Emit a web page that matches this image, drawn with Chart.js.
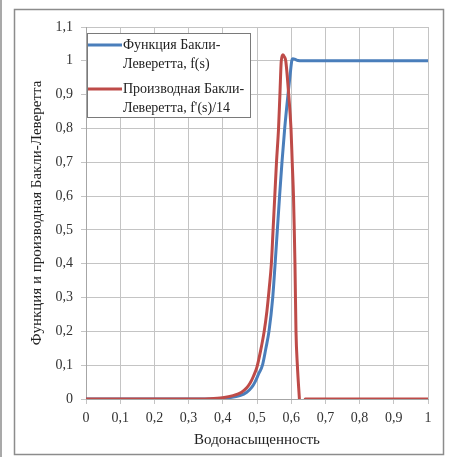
<!DOCTYPE html>
<html lang="ru">
<head>
<meta charset="utf-8">
<script src="https://cdn.jsdelivr.net/npm/chart.js@4.4.1/dist/chart.umd.min.js"></script>
<style>
  html, body { margin: 0; padding: 0; background: #fff; }
  #wrap { width: 449px; height: 457px; position: relative; }
</style>
</head>
<body>
<div id="wrap"><canvas id="blChart"></canvas></div>
<script>
// водонасыщенность s и функция Бакли-Леверетта f(s)
const sBlue = [0, 0.1, 0.2, 0.3, 0.38, 0.42, 0.45, 0.47, 0.485, 0.494, 0.505, 0.516, 0.526, 0.535,
  0.546, 0.553, 0.5595, 0.566, 0.573, 0.581, 0.5906, 0.597, 0.6017, 0.605, 0.61, 0.62, 0.632,
  0.7, 0.8, 0.9, 1.0];
const fBlue = [0, 0, 0, 0, 0.001, 0.004, 0.01, 0.02, 0.035, 0.05, 0.075, 0.10, 0.15, 0.20,
  0.30, 0.40, 0.50, 0.60, 0.70, 0.80, 0.90, 0.96, 1.0, 1.006, 1.005, 1.001, 1.0,
  1.0, 1.0, 1.0, 1.0];

// производная f'(s)/14
const sRed = [0, 0.1, 0.2, 0.3, 0.36, 0.4, 0.43, 0.455, 0.47, 0.48, 0.49, 0.5, 0.51, 0.521, 0.529,
  0.536, 0.542, 0.547, 0.552, 0.557, 0.563, 0.567, 0.571, 0.576, 0.58, 0.584, 0.5927, 0.5994,
  0.603, 0.6067, 0.609, 0.611, 0.614, 0.618, 0.624, 0.632, 0.641, 0.7, 0.8, 0.9, 1.0];
const dRed = [0, 0, 0, 0, 0.001, 0.004, 0.01, 0.02, 0.033, 0.047, 0.068, 0.095, 0.14, 0.20, 0.26,
  0.33, 0.40, 0.50, 0.60, 0.70, 0.80, 0.90, 1.0, 1.018, 1.012, 1.0, 0.90, 0.80,
  0.70, 0.60, 0.50, 0.40, 0.20, 0.10, 0, null, 0, 0, 0, 0, 0];

const seriesNames = [
  ["Функция Бакли-", "Леверетта, f(s)"],
  ["Производная Бакли-", "Леверетта, f'(s)/14"]
];
const seriesColors = ['#4a7ebb', '#be4b48'];

const xTitle = 'Водонасыщенность';
const yTitle = 'Функция и производная Бакли-Леверетта';

const serif = "'Liberation Serif', 'Times New Roman', serif";

function toPoints(xs, ys) {
  return xs.map((x, i) => ({ x: x, y: ys[i] }));
}

// число с десятичной запятой: 0,1 ... 1,1
function commaNum(v) {
  return String(Math.round(v * 10) / 10).replace('.', ',');
}

// рамка вокруг диаграммы
const framePlugin = {
  id: 'frame',
  beforeDraw(chart) {
    const c = chart.ctx;
    c.save();
    c.fillStyle = '#fff';
    c.fillRect(0, 0, chart.width, chart.height);
    c.strokeStyle = '#8c8c8c';
    c.lineWidth = 1.5;
    c.strokeRect(14.5, 9.5, 429, 445);
    c.beginPath();
    c.moveTo(1, 0);
    c.lineTo(1, chart.height);
    c.stroke();
    c.restore();
  }
};

// легенда в две строки внутри области построения
const boxLegend = {
  id: 'boxLegend',
  afterDraw(chart) {
    const c = chart.ctx;
    const left = chart.chartArea.left + 1;
    const top = chart.chartArea.top + 6;
    const w = 163, h = 84;
    c.save();
    c.fillStyle = '#fff';
    c.fillRect(left, top, w, h);
    c.strokeStyle = '#7a7a7a';
    c.lineWidth = 1;
    c.strokeRect(left + 0.5, top + 0.5, w, h);
    c.font = '14px ' + serif;
    c.textBaseline = 'middle';
    c.fillStyle = '#222';
    seriesNames.forEach((lines, i) => {
      const y = top + 12 + i * 44;
      c.strokeStyle = seriesColors[i];
      c.lineWidth = 3;
      c.beginPath();
      c.moveTo(left + 1, y);
      c.lineTo(left + 35, y);
      c.stroke();
      lines.forEach((t, j) => c.fillText(t, left + 36, y + j * 19));
    });
    c.restore();
  }
};

new Chart(document.getElementById('blChart'), {
  type: 'line',
  data: {
    datasets: [{
      label: seriesNames[0].join(' '),
      data: toPoints(sBlue, fBlue),
      borderColor: seriesColors[0],
      borderWidth: 3,
      order: 2
    }, {
      label: seriesNames[1].join(' '),
      data: toPoints(sRed, dRed),
      borderColor: seriesColors[1],
      borderWidth: 3,
      order: 1
    }]
  },
  options: {
    responsive: true,
    maintainAspectRatio: false,
    animation: false,
    layout: { padding: { left: 14, right: 21, top: 27, bottom: 8 } },
    elements: {
      point: { radius: 0 },
      line: { cubicInterpolationMode: 'monotone', borderCapStyle: 'round', borderJoinStyle: 'round', fill: false }
    },
    plugins: {
      legend: { display: false },
      tooltip: { enabled: false }
    },
    scales: {
      x: {
        type: 'linear',
        min: 0,
        max: 1,
        afterFit: s => { s.height = 50; },
        ticks: { stepSize: 0.1, padding: 6, color: '#333', font: { family: serif, size: 14 }, callback: commaNum },
        grid: { color: '#c4c4c4', tickLength: 5 },
        border: { color: '#a6a6a6' },
        title: { display: true, text: xTitle, color: '#222', font: { family: serif, size: 15 }, padding: { top: 0, bottom: 0 } }
      },
      y: {
        min: 0,
        max: 1.1,
        afterFit: s => { s.width = 72; },
        ticks: { stepSize: 0.1, padding: 8, color: '#333', font: { family: serif, size: 14 }, callback: commaNum },
        grid: { color: '#c4c4c4', tickLength: 5 },
        border: { color: '#a6a6a6' },
        title: { display: true, text: yTitle, color: '#222', font: { family: serif, size: 15 }, padding: { top: 14, bottom: 0 } }
      }
    }
  },
  plugins: [framePlugin, boxLegend]
});
</script>
</body>
</html>
